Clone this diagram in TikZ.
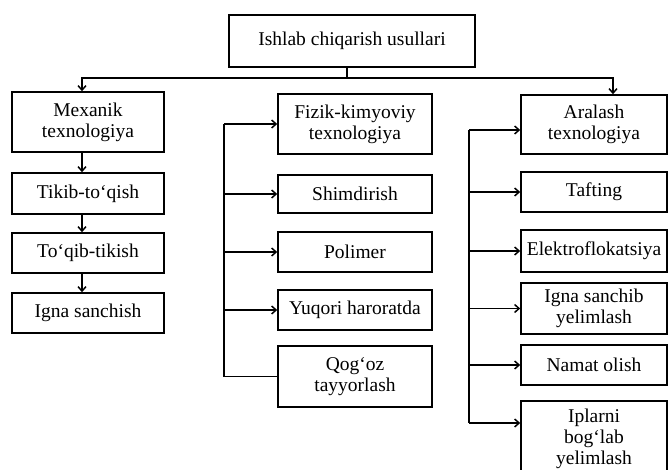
\documentclass[tikz,border=0pt]{standalone}
\usepackage{fontspec}
\setmainfont{Liberation Serif}
\usetikzlibrary{arrows.meta, positioning, calc}

\begin{document}
\begin{tikzpicture}[
    x=1pt, y=-1pt,
    >={Straight Barb[length=4.5pt,width=8pt]},
    every node/.style={draw, line width=1.6pt, align=center, inner sep=2pt,
        font=\fontsize{19.5}{21}\selectfont},
    leftbox/.style={minimum width=152pt},
    midbox/.style={minimum width=154pt},
    rightbox/.style={minimum width=146pt},
    link/.style={line width=1.5pt}
]
\useasboundingbox (0,0) rectangle (670,470);
\clip (0,0) rectangle (670,470);

\node[minimum width=246pt, minimum height=52pt] (top) at (352,41) {Ishlab chiqarish usullari};

% mexanik
\node[leftbox, minimum height=60pt] (mex) at (88,122) {Mexanik\\texnologiya};
\node[leftbox, minimum height=41pt] (tikib) at (88,193.5) {Tikib-to‘qish};
\node[leftbox, minimum height=40pt] (toqib) at (88,253) {To‘qib-tikish};
\node[leftbox, minimum height=40pt] (ignas) at (88,313) {Igna sanchish};

% fizik-kimyoviy
\node[midbox, minimum height=60pt] (fizik) at (355,124) {Fizik-kimyoviy\\texnologiya};
\node[midbox, minimum height=38pt] (shim) at (355,194) {Shimdirish};
\node[midbox, minimum height=40pt] (polimer) at (355,252) {Polimer};
\node[midbox, minimum height=40pt] (yuqori) at (355,310) {Yuqori haroratda};
\node[midbox, minimum height=61pt] (qogoz) at (355,376.5) {Qog‘oz\\tayyorlash};

% aralash
\node[rightbox, minimum height=59pt] (aralash) at (594,124.5) {Aralash\\texnologiya};
\node[rightbox, minimum height=40pt] (tafting) at (594,192) {Tafting};
\node[rightbox, minimum height=42pt] (elektro) at (594,251) {Elektroflokatsiya};
\node[rightbox, minimum height=51pt] (ignasan) at (594,308.5) {Igna sanchib\\yelimlash};
\node[rightbox, minimum height=40pt] (namat) at (594,365) {Namat olish};
\node[rightbox, minimum height=75pt] (iplar) at (594,438.5) {Iplarni\\bog‘lab\\yelimlash};

% top split
\coordinate (split) at (347,78);
\draw[link] (top.south -| split) -- (split);
\draw[link,->] (split) -| ([xshift=-6pt]mex.north);
\draw[link,->] (split) -| ([xshift=19pt]aralash.north);

\foreach \a/\b in {mex/tikib, tikib/toqib, toqib/ignas}
    \draw[link,->] ([xshift=-6pt]\a.south) -- ([xshift=-6pt]\b.north);

% left bracket
\coordinate (lbar) at (224,0);
\draw[link] (lbar |- fizik.west) -- (lbar |- qogoz.west) -- (qogoz.west);
\foreach \n in {fizik, shim, polimer, yuqori}
    \draw[link,->] (lbar |- \n.west) -- (\n.west);

% right bracket
\coordinate (rbar) at (469,0);
\coordinate (araIn) at ([yshift=-5.5pt]aralash.west);
\coordinate (iplIn) at ([yshift=15.5pt]iplar.west);
\draw[link] (rbar |- araIn) -- (rbar |- iplIn);
\foreach \n in {araIn, tafting.west, elektro.west, ignasan.west, namat.west, iplIn}
    \draw[link,->] (rbar |- \n) -- (\n);

\end{tikzpicture}
\end{document}
